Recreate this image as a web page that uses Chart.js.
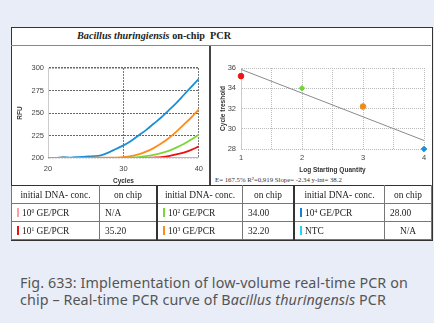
<!DOCTYPE html>
<html>
<head>
<meta charset="utf-8">
<script src="https://cdn.jsdelivr.net/npm/chart.js@4.4.1/dist/chart.umd.min.js"></script>
<style>
  html, body { margin: 0; padding: 0; }
  body { width: 434px; height: 323px; background: #e9edf7; position: relative; overflow: hidden; }
  .box { position: absolute; left: 11px; top: 27px; width: 420px; height: 212px; background: #fff; border: 1px solid #333; }
  .title { position: absolute; left: 11px; top: 28px; width: 420px; height: 17px; border-bottom: 1px solid #888;
           font: bold 10.2px "Liberation Serif", serif; color: #222; }
  .title span { position: absolute; left: 66px; top: 2px; }
  .divider { position: absolute; left: 209px; top: 46px; width: 2px; height: 139px; background: #444; }
  #left { position: absolute; left: 12px; top: 46px; }
  #right { position: absolute; left: 211px; top: 46px; }
  .eq { position: absolute; left: 215px; top: 176px; font: 6.8px "Liberation Serif", serif; color: #333; }
  table { position: absolute; left: 11px; top: 185px; width: 421px; height: 55px; border-collapse: collapse;
          font: 9.4px "Liberation Serif", serif; color: #222; background: #fff; will-change: transform; }
  td { border: 1px solid #777; padding: 0 0 0 5px; height: 17px; white-space: nowrap; color: #222; }
  tr:first-child td { border-top: 1.5px solid #333; text-align: center; padding: 0; }
  td.thick { border-left: 2px solid #333; }
  td.c { text-align: center; padding: 0; }
  .bar { display: inline-block; width: 2px; height: 9px; margin-right: 3px; vertical-align: -1px; }
  sup { font-size: 5.5px; vertical-align: 3px; }
  .caption { position: absolute; left: 20px; top: 275px; font: 14.3px "Noto Sans", sans-serif; color: #555;
             line-height: 16.5px; letter-spacing: 0.1px; }
</style>
</head>
<body>
<div class="box"></div>
<div class="title"><span><i>Bacillus thuringiensis</i> on-chip&nbsp; PCR</span></div>
<div class="divider"></div>
<canvas id="left" width="197" height="139"></canvas>
<canvas id="right" width="220" height="128"></canvas>
<div class="eq">E= 167.5% R²=0,919 Slope= -2.34 y-int= 38.2</div>
<table>
  <tr>
    <td style="width:87px">initial DNA- conc.</td><td style="width:56px">on chip</td>
    <td class="thick" style="width:84px">initial DNA- conc.</td><td style="width:50px">on chip</td>
    <td class="thick" style="width:89px">initial DNA- conc.</td><td>on chip</td>
  </tr>
  <tr>
    <td><span class="bar" style="background:#ff9f9f"></span>10<sup>0</sup> GE/PCR</td><td>N/A</td>
    <td class="thick"><span class="bar" style="background:#7fd43a"></span>10<sup>2</sup> GE/PCR</td><td>34.00</td>
    <td class="thick"><span class="bar" style="background:#1a7fd0"></span>10<sup>4</sup> GE/PCR</td><td>28.00</td>
  </tr>
  <tr>
    <td><span class="bar" style="background:#ee1111"></span>10<sup>1</sup> GE/PCR</td><td>35.20</td>
    <td class="thick"><span class="bar" style="background:#ff8c1a"></span>10<sup>3</sup> GE/PCR</td><td>32.20</td>
    <td class="thick"><span class="bar" style="background:#22d4f0"></span>NTC</td><td class="c">N/A</td>
  </tr>
</table>
<div class="caption">Fig. 633: Implementation of low-volume real-time PCR on<br>chip – Real-time PCR curve of B<i>acillus thuringensis</i> PCR</div>

<script>
// amplification curves, RFU per cycle (cycles 20..40)
const cycles = [20,21,22,23,24,25,26,27,28,29,30,31,32,33,34,35,36,37,38,39,40]
const rfuNTC = [200,200,200,200,200,200,200,200,200,200,200,200,200,200,200,200,200,200,200,200,200]
const rfu10e0 = [200,200,200,200,200,200,200,200,200,200,200,200,200,200,200,200,200,200,200,200,200]
const rfu10e1 = [200,200,200,200,200,200,200,200,200,200,200,200,200,200,200.5,201,202,204,206,209,213]
const rfu10e2 = [200,200,200,200,200,200,200,200,200,200,200,200.5,201,202,203.5,205.5,208,211.5,215.5,220.5,226]
const rfu10e3 = [200,200,200.5,200,200,200,200.5,200.5,200.5,200.5,201,202,204,207,211,216,222,229,237,245,254]
const rfu10e4 = [200,200,201,200.5,201,201.5,202,203,206,210,214,219,225,231,238,245,253,261,270,279,288]

// standard curve
const logQty = [1,2,3,4]
const ctValues = [35.2,34.0,32.2,28.0]
const ctColors = ['#f01515','#6fd63a','#f08a1a','#1a90d8']
const ctShapes = ['circle','rectRot','circle','rectRot']
const slope = -2.34
const yInt = 38.2
const fitX = [1,4]

const tickFont = {family: 'Liberation Sans', size: 7.5}
const titleFont = {family: 'Liberation Sans', size: 6.5, weight: 'bold'}

function curve(data, color, width) {
    return {data: cycles.map((c,i)=>({x:c, y:data[i]})), borderColor: color, borderWidth: width,
        pointRadius: 0, tension: 0.3, fill: false}
}

new Chart(document.getElementById('left'), {
    type: 'line',
    data: {
        datasets: [
            curve(rfuNTC,'#22d4f0',1.2),
            curve(rfu10e0,'#ff9f9f',1.5),
            curve(rfu10e1,'#ee1111',1.8),
            curve(rfu10e2,'#7fd43a',1.8),
            curve(rfu10e3,'#ff8c1a',1.8),
            curve(rfu10e4,'#1a8fd8',1.8)
        ]
    },
    options: {
        responsive: false,
        animation: false,
        layout: {padding: {top: 22, right: 9, left: 4, bottom: 0}},
        plugins: {legend: {display: false}, tooltip: {enabled: false}},
        scales: {
            x: {
                type: 'linear', min: 20, max: 40,
                ticks: {stepSize: 10, font: tickFont, color: '#444', padding: 6},
                grid: {color: c => c.tick.value === 20 ? 'rgba(0,0,0,0)' : '#777', drawTicks: false, lineWidth: 1},
                border: {display: false, dash: [2,1]},
                title: {display: true, text: 'Cycles', font: titleFont, color: '#333', padding: {top: 1, bottom: 0}},
                afterFit: s => { s.height = 27 }
            },
            y: {
                min: 200, max: 300,
                ticks: {stepSize: 25, font: tickFont, color: '#444', padding: 4},
                grid: {color: c => c.tick.value === 200 ? '#ddd' : '#666', drawTicks: false,
                    lineWidth: c => c.tick.value === 300 ? 1.6 : 1},
                border: {display: true, color: '#ccc', dash: [2,1]},
                title: {display: true, text: 'RFU', font: titleFont, color: '#333', padding: {top: 0, bottom: 1}},
                afterFit: s => { s.width = 32 }
            }
        }
    }
})

new Chart(document.getElementById('right'), {
    data: {
        datasets: [
            {
                type: 'line',
                data: fitX.map(x=>({x, y: yInt + slope*x})),
                borderColor: '#8a8a8a', borderWidth: 1, pointRadius: 0
            },
            {
                type: 'scatter',
                data: logQty.map((x,i)=>({x, y: ctValues[i]})),
                pointBackgroundColor: ctColors, pointBorderColor: ctColors,
                pointStyle: ctShapes, pointRadius: 2.8, clip: false
            }
        ]
    },
    options: {
        responsive: false,
        animation: false,
        layout: {padding: {top: 22, right: 7, left: 8, bottom: 0}},
        plugins: {legend: {display: false}, tooltip: {enabled: false}},
        scales: {
            x: {
                type: 'linear', min: 1, max: 4,
                ticks: {stepSize: 0.5, font: tickFont, color: '#444', padding: 4,
                    callback: v => Number.isInteger(v) ? v : ''},
                grid: {color: '#bbb', drawTicks: false},
                border: {display: false, dash: [1,1]},
                title: {display: true, text: 'Log Starting Quantity', font: titleFont, color: '#333', padding: {top: 0, bottom: 0}},
                afterFit: s => { s.height = 25 }
            },
            y: {
                min: 28, max: 36,
                ticks: {stepSize: 2, font: tickFont, color: '#444', padding: 5},
                grid: {color: '#bbb', drawTicks: false},
                border: {display: true, color: '#ccc', dash: [1,1]},
                title: {display: true, text: 'Cycle treshold', font: titleFont, color: '#333', padding: {top: 0, bottom: 2}},
                afterFit: s => { s.width = 22 }
            }
        }
    }
})
</script>
</body>
</html>
